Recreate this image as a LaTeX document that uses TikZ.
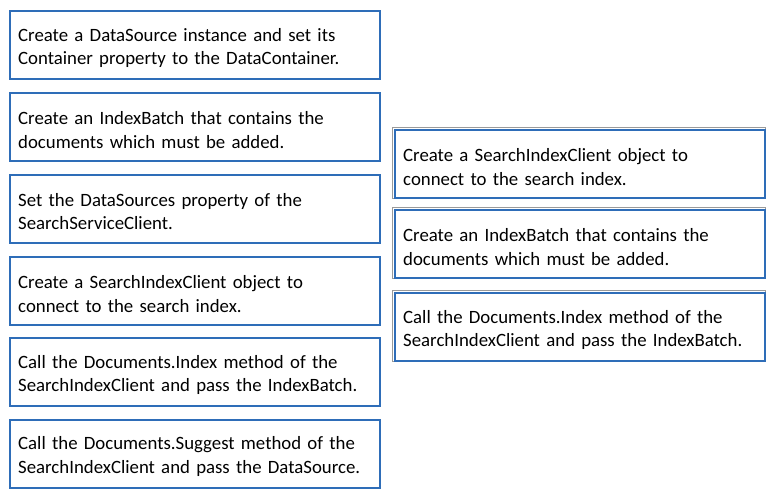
\documentclass[tikz,border=0pt]{standalone}
\usepackage{fontspec}
\setmainfont{Carlito}
\definecolor{boxblue}{HTML}{2E6DB8}
\definecolor{rimgray}{HTML}{9A9A9A}
\tikzset{
  stepbox/.style={draw=boxblue, line width=2.4pt, fill=white, rectangle,
    minimum width=370pt, minimum height=68pt, text width=354pt,
    inner xsep=8pt, inner ysep=0pt, align=left, anchor=north west,
    font=\fontsize{18.8pt}{23.5pt}\selectfont, text=black,
    execute at begin node={\rule{0pt}{19pt}}},
}
\begin{document}
\begin{tikzpicture}[x=1pt,y=-1pt]
\useasboundingbox[fill=white] (0,0) rectangle (773,498);
% available actions
\node[stepbox] (a1) at (9,10) {Create a DataSource instance and set its\\Container property to the DataContainer.};
\node[stepbox] (a2) at (9,92) {Create an IndexBatch that contains the\\documents which must be added.};
\node[stepbox] (a3) at (9,173.5) {Set the DataSources property of the\\SearchServiceClient.};
\node[stepbox] (a4) at (9,256) {Create a SearchIndexClient object to\\connect to the search index.};
\node[stepbox] (a5) at (9,337) {Call the Documents.Index method of the\\SearchIndexClient and pass the IndexBatch.};
\node[stepbox] (a6) at (9,418.5) {Call the Documents.Suggest method of the\\SearchIndexClient and pass the DataSource.};
% chosen sequence, with a thin grey rim
\foreach \y in {129,209,292}
  \draw[rimgray, line width=1pt] (392.3,\y-1.7) rectangle (765.7,\y+69.7);
\node[stepbox] (r1) at (394,129) {Create a SearchIndexClient object to\\connect to the search index.};
\node[stepbox] (r2) at (394,209) {Create an IndexBatch that contains the\\documents which must be added.};
\node[stepbox] (r3) at (394,292) {Call the Documents.Index method of the\\SearchIndexClient and pass the IndexBatch.};
\end{tikzpicture}
\end{document}
